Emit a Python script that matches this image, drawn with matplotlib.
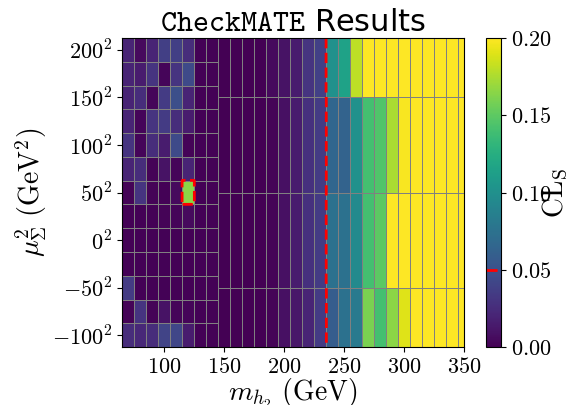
import numpy as np
import matplotlib
matplotlib.use("Agg")
import matplotlib.pyplot as plt
from matplotlib.ticker import FixedLocator, FuncFormatter

plt.rcParams['mathtext.fontset'] = 'cm'

# ---- data ----
# fine scan (low masses): cell centres
left_m = [70, 80, 90, 100, 110, 120, 130, 140]
left_mu = [-100, -75, -50, -25, 0, 25, 50, 75, 100, 125, 150, 175, 200]
left_cls = [
    [0.025, 0.022, 0.025, 0.040, 0.042, 0.015, 0.001, 0.001],  # -100
    [0.002, 0.030, 0.002, 0.010, 0.003, 0.003, 0.001, 0.001],  # -75
    [0.035, 0.001, 0.001, 0.001, 0.001, 0.001, 0.001, 0.001],  # -50
    [0.001, 0.001, 0.001, 0.001, 0.001, 0.001, 0.001, 0.001],  # -25
    [0.001, 0.001, 0.001, 0.001, 0.001, 0.001, 0.001, 0.001],  # 0
    [0.001, 0.001, 0.001, 0.002, 0.003, 0.005, 0.001, 0.001],  # 25
    [0.002, 0.030, 0.002, 0.001, 0.005, 0.165, 0.001, 0.001],  # 50
    [0.020, 0.025, 0.002, 0.010, 0.003, 0.020, 0.001, 0.001],  # 75
    [0.030, 0.003, 0.025, 0.015, 0.045, 0.002, 0.001, 0.001],  # 100
    [0.020, 0.003, 0.030, 0.035, 0.025, 0.015, 0.001, 0.001],  # 125
    [0.020, 0.025, 0.003, 0.035, 0.048, 0.020, 0.001, 0.001],  # 150
    [0.020, 0.015, 0.030, 0.003, 0.030, 0.045, 0.001, 0.001],  # 175
    [0.020, 0.005, 0.020, 0.037, 0.037, 0.025, 0.001, 0.001],  # 200
]

# coarse scan (high masses): cell centres
right_m = [150, 160, 170, 180, 190, 200, 210, 220, 230, 240, 250,
           260, 270, 280, 290, 300, 310, 320, 330, 340, 350]
right_mu = [-100, 0, 100, 200]
right_cls = [
    [0, 0, 0, 0, 0.002, 0.008, 0.012, 0.020, 0.035, 0.058, 0.075, 0.082,
     0.160, 0.140, 0.165, 0.190, 0.25, 0.25, 0.25, 0.25, 0.25],
    [0, 0, 0, 0, 0.002, 0.008, 0.015, 0.028, 0.035, 0.075, 0.075, 0.095,
     0.140, 0.150, 0.25, 0.25, 0.25, 0.25, 0.25, 0.25, 0.25],
    [0, 0, 0, 0, 0.002, 0.008, 0.015, 0.028, 0.035, 0.065, 0.063, 0.100,
     0.140, 0.145, 0.175, 0.198, 0.25, 0.25, 0.25, 0.25, 0.25],
    [0, 0, 0, 0, 0.005, 0.010, 0.015, 0.030, 0.038, 0.100, 0.115, 0.180,
     0.25, 0.25, 0.25, 0.25, 0.25, 0.25, 0.25, 0.25, 0.25],
]

x_ticks = [100, 150, 200, 250, 300, 350]
y_ticks = [-100, -50, 0, 50, 100, 150, 200]
cbar_ticks = [0.00, 0.05, 0.10, 0.15, 0.20]
cls_limit = 0.05

# ---- figure ----
fig = plt.figure(figsize=(5.75, 4.05), dpi=100)
ax = fig.add_axes([0.212, 0.143, 0.595, 0.763])
cax = fig.add_axes([0.845, 0.143, 0.027, 0.763])

kw = dict(cmap='viridis', vmin=0, vmax=0.2, shading='nearest',
          edgecolors='gray', linewidth=0.7)
mesh = ax.pcolormesh(right_m, right_mu, np.array(right_cls), **kw)
ax.pcolormesh(left_m, left_mu, np.array(left_cls), **kw)

xmin, xmax = 65, 350
ymin, ymax = -112.5, 212.5
ax.set_xlim(xmin, xmax)
ax.set_ylim(ymin, ymax)

# exclusion contour from the cell values on a fine grid
lm = np.array(left_m); lmu = np.array(left_mu)
rm = np.array(right_m); rmu = np.array(right_mu)
xs = np.linspace(xmin, xmax, 571)
ys = np.linspace(ymin, ymax, 651)
Z = np.zeros((len(ys), len(xs)))
lc = np.array(left_cls); rc = np.array(right_cls)
for j, xv in enumerate(xs):
    if xv < (lm[-1] + rm[0]) / 2:
        ix = np.argmin(np.abs(lm - xv))
        iy = np.argmin(np.abs(lmu[:, None] - ys[None, :]), axis=0)
        Z[:, j] = lc[iy, ix]
    else:
        ix = np.argmin(np.abs(rm - xv))
        iy = np.argmin(np.abs(rmu[:, None] - ys[None, :]), axis=0)
        Z[:, j] = rc[iy, ix]
cs = ax.contour(xs, ys, Z, levels=[cls_limit], colors='red',
                linestyles='--', linewidths=2.0)

ax.xaxis.set_major_locator(FixedLocator(x_ticks))
ax.xaxis.set_major_formatter(FuncFormatter(lambda v, p: f"${v:.0f}$"))
ax.yaxis.set_major_locator(FixedLocator(y_ticks))


def yfmt(v, p):
    if v < 0:
        return f"$-{abs(v):.0f}^2$"
    return f"${v:.0f}^2$"


ax.yaxis.set_major_formatter(FuncFormatter(yfmt))
ax.tick_params(labelsize=16)
ax.set_xlabel(r"$m_{h_2}\ (\mathrm{GeV})$", fontsize=20, labelpad=0)
ax.set_ylabel(r"$\mu_\Sigma^2\ (\mathrm{GeV}^2)$", fontsize=20, labelpad=2)
ax.set_title(r"$\mathtt{CheckMATE}$ Results", fontsize=22, pad=5)

cbar = fig.colorbar(mesh, cax=cax)
cbar.set_ticks(cbar_ticks)
cbar.ax.yaxis.set_major_formatter(FuncFormatter(lambda v, p: f"${v:.2f}$"))
cbar.ax.tick_params(labelsize=16)
cbar.add_lines(cs)
for coll in cbar.lines:
    coll.set_linestyle((0, (4, 4)))
    coll.set_linewidth(2.0)
cbar.set_label(r"$\mathrm{CL_S}$", fontsize=20, labelpad=-8)

fig.savefig("out.png", dpi=100)
